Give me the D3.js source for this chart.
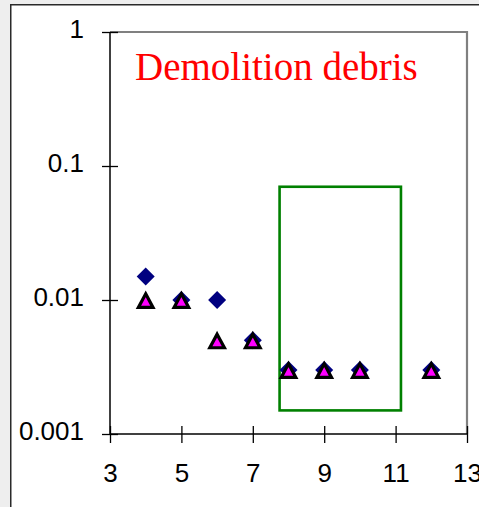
<!DOCTYPE html>
<html>
<head>
<meta charset="utf-8">
<script src="https://cdn.jsdelivr.net/npm/d3@7"></script>
<style>
  html, body { margin: 0; padding: 0; background: #eeeeee; }
  svg { display: block; }
</style>
</head>
<body>
<script>
// Sieve size classes on the x axis, concentrations on a log y axis
const xValues = [4, 5, 6, 7, 8, 9, 10, 12];
const diamondValues = [0.015, 0.01, 0.01, 0.005, 0.003, 0.003, 0.003, 0.003];
const triangleValues = [0.01, 0.01, 0.005, 0.005, 0.003, 0.003, 0.003, 0.003];
const xTicks = [3, 5, 7, 9, 11, 13];
const yTicks = [1, 0.1, 0.01, 0.001];
const yTickLabels = ["1", "0.1", "0.01", "0.001"];
const titleText = "Demolition debris";
// Highlighted window: x from 7.75 to 11.15, y from 0.0015 to 0.07
const boxX = [7.75, 11.15];
const boxY = [0.0015, 0.07];

const W = 479, H = 507;
const plot = { left: 110, top: 32, right: 467, bottom: 434 };

const svg = d3.select("body").append("svg")
  .attr("width", W).attr("height", H);

// Chart frame (white, extends past the window on the right and bottom)
svg.append("rect")
  .attr("x", 10.75).attr("y", 4.75)
  .attr("width", W + 20).attr("height", H + 20)
  .attr("fill", "#ffffff")
  .attr("stroke", "#2a2a2a").attr("stroke-width", 1.5);

const x = d3.scaleLinear().domain([3, 13]).range([plot.left, plot.right]);
const y = d3.scaleLog().domain([0.001, 1]).range([plot.bottom, plot.top]);

// Plot area border (grey top and right)
svg.append("path")
  .attr("d", `M${plot.left},${plot.top}H${plot.right}V${plot.bottom}`)
  .attr("fill", "none").attr("stroke", "#808080").attr("stroke-width", 2.2);

// Y axis
const yAxis = svg.append("g")
  .attr("transform", `translate(${plot.left},0)`)
  .call(d3.axisLeft(y).tickValues(yTicks).tickSize(8)
    .tickFormat((d, i) => yTickLabels[i]));
yAxis.select(".domain").remove();
yAxis.selectAll(".tick line").attr("x1", 8).attr("x2", -8)
  .attr("stroke", "#000").attr("stroke-width", 1.3);
yAxis.selectAll(".tick text")
  .attr("x", -26).attr("dy", "0.2em")
  .attr("font-family", "'Liberation Sans', Arial, sans-serif")
  .attr("font-size", 26).attr("fill", "#000");
svg.append("line")
  .attr("x1", plot.left).attr("x2", plot.left)
  .attr("y1", plot.top).attr("y2", plot.bottom)
  .attr("stroke", "#000").attr("stroke-width", 1.5);

// X axis
const xAxis = svg.append("g")
  .attr("transform", `translate(0,${plot.bottom})`)
  .call(d3.axisBottom(x).tickValues(xTicks).tickSize(8).tickFormat(d3.format("d")));
xAxis.select(".domain").remove();
xAxis.selectAll(".tick line").attr("y1", -8).attr("y2", 9)
  .attr("stroke", "#000").attr("stroke-width", 1.3);
xAxis.selectAll(".tick text")
  .attr("y", 48).attr("dy", 0)
  .attr("font-family", "'Liberation Sans', Arial, sans-serif")
  .attr("font-size", 26).attr("fill", "#000");
svg.append("line")
  .attr("x1", plot.left).attr("x2", plot.right)
  .attr("y1", plot.bottom).attr("y2", plot.bottom)
  .attr("stroke", "#000").attr("stroke-width", 1.5);

// Title
svg.append("text")
  .attr("x", 135).attr("y", 79.5)
  .attr("font-family", "'Liberation Serif', 'Times New Roman', serif")
  .attr("font-size", 39).attr("fill", "#ff0000")
  .text(titleText);

// Green highlight box
svg.append("rect")
  .attr("x", x(boxX[0])).attr("y", y(boxY[1]))
  .attr("width", x(boxX[1]) - x(boxX[0]))
  .attr("height", y(boxY[0]) - y(boxY[1]))
  .attr("fill", "none").attr("stroke", "#008000").attr("stroke-width", 2.6);

// Diamond series
const diamondPath = "M0,-9L9,0L0,9L-9,0Z";
svg.append("g").selectAll("path")
  .data(xValues.map((d, i) => [d, diamondValues[i]]))
  .join("path")
  .attr("transform", d => `translate(${x(d[0])},${y(d[1])})`)
  .attr("d", diamondPath)
  .attr("fill", "#000080");

// Triangle series
const trianglePath = "M0,-6.2L7.3,7.4L-7.3,7.4Z";
svg.append("g").selectAll("path")
  .data(xValues.map((d, i) => [d, triangleValues[i]]))
  .join("path")
  .attr("transform", d => `translate(${x(d[0])},${y(d[1])})`)
  .attr("d", trianglePath)
  .attr("fill", "#ff00ff")
  .attr("stroke", "#000").attr("stroke-width", 3.2)
  .attr("stroke-linejoin", "miter");
</script>
</body>
</html>
